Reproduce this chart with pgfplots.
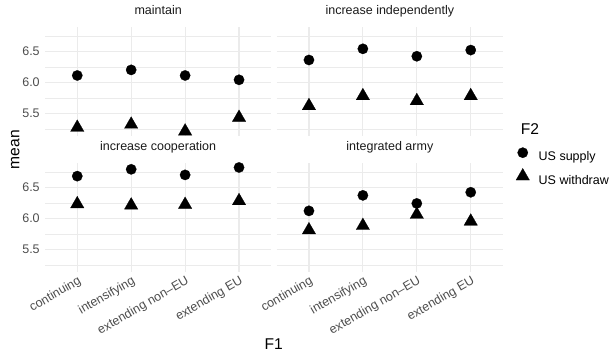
\documentclass[border=0pt]{standalone}
\usepackage{fontspec}
\setmainfont{Liberation Sans}
\usepackage{pgfplots}
\pgfplotsset{compat=1.18}
\definecolor{gridc}{HTML}{EBEBEB}
\definecolor{tickc}{HTML}{4D4D4D}
\definecolor{stripc}{HTML}{1A1A1A}
\newcommand{\smallf}{\fontsize{12.5}{14}\selectfont}
\newcommand{\bigf}{\fontsize{15.6}{18}\selectfont}
\pgfplotsset{
  panel/.style={
    scale only axis, width=226.5pt, height=109pt,
    xmin=0.4, xmax=4.6, ymin=5.134, ymax=6.892,
    xtick={1,2,3,4}, ytick={5.5,6,6.5},
    minor ytick={5.25,5.75,6.25,6.75},
    grid=both,
    major grid style={draw=gridc, line width=1.1pt},
    minor grid style={draw=gridc, line width=0.55pt},
    axis line style={draw=none},
    major tick length=0pt, minor tick length=0pt,
    tick style={draw=none},
    /pgf/number format/assume math mode=true,
    ticklabel style={font=\smallf, text=tickc},
    yticklabel style={inner sep=0pt, xshift=-5pt},
    xticklabel style={yshift=-3pt, rotate=30, anchor=north east, inner sep=0pt},
    title style={at={(0.5,1)}, anchor=base, yshift=6pt, font=\smallf, text=stripc, inner sep=0pt},
    clip=false,
    anchor=south west,
  },
  supply/.style={only marks, mark=*, mark size=5.2pt, mark options={fill=black, draw=black, line width=0.2pt}},
  withdraw/.style={only marks, mark=triangle*, mark size=7.8pt, mark options={fill=black, draw=black, line width=0.2pt}},
}
\begin{document}
\begin{tikzpicture}[x=1pt,y=1pt]
\useasboundingbox (0,0) rectangle (614,353);
% top-left: maintain
\begin{axis}[panel, at={(44.9pt,217pt)}, title={maintain},
  xticklabels={}, yticklabels={5.5,6.0,6.5}]
\addplot[supply] coordinates {(1,6.11) (2,6.20) (3,6.11) (4,6.04)};
\addplot[withdraw] coordinates {(1,5.27) (2,5.32) (3,5.21) (4,5.43)};
\end{axis}
% top-right: increase independently
\begin{axis}[panel, at={(276.6pt,217pt)}, title={increase independently},
  xticklabels={}, yticklabels={},
  legend style={at={(axis description cs:1.057,-0.1055)}, anchor=north west,
    draw=none, fill=none, inner sep=0pt, outer sep=0pt,
    font=\smallf, column sep=9.2pt, row sep=4.7pt,
    nodes={inner sep=0pt, text height=10pt, text depth=3pt}},
  legend cell align=left,
  legend image code/.code={\draw[#1] plot coordinates {(0pt,4.5pt)};}]
\addplot[supply] coordinates {(1,6.36) (2,6.54) (3,6.42) (4,6.52)};
\addlegendentry{US supply}
\addplot[withdraw] coordinates {(1,5.62) (2,5.78) (3,5.70) (4,5.78)};
\addlegendentry{US withdraw}
\end{axis}
% bottom-left: increase cooperation
\begin{axis}[panel, at={(44.9pt,81pt)}, title={increase cooperation},
  xticklabels={continuing, intensifying, extending non--EU, extending EU},
  yticklabels={5.5,6.0,6.5}]
\addplot[supply] coordinates {(1,6.68) (2,6.79) (3,6.70) (4,6.82)};
\addplot[withdraw] coordinates {(1,6.23) (2,6.21) (3,6.22) (4,6.28)};
\end{axis}
% bottom-right: integrated army
\begin{axis}[panel, at={(276.6pt,81pt)}, title={integrated army},
  xticklabels={continuing, intensifying, extending non--EU, extending EU},
  yticklabels={}]
\addplot[supply] coordinates {(1,6.12) (2,6.37) (3,6.24) (4,6.42)};
\addplot[withdraw] coordinates {(1,5.81) (2,5.88) (3,6.06) (4,5.95)};
\end{axis}
% axis titles
\node[font=\bigf, rotate=90, anchor=base, inner sep=0pt] at (19.5,203.5) {mean};
\node[font=\bigf, anchor=base, inner sep=0pt] at (273.8,3.2) {F1};
\node[font=\bigf, anchor=base west, inner sep=0pt] at (520.7,218) {F2};
\end{tikzpicture}
\end{document}
